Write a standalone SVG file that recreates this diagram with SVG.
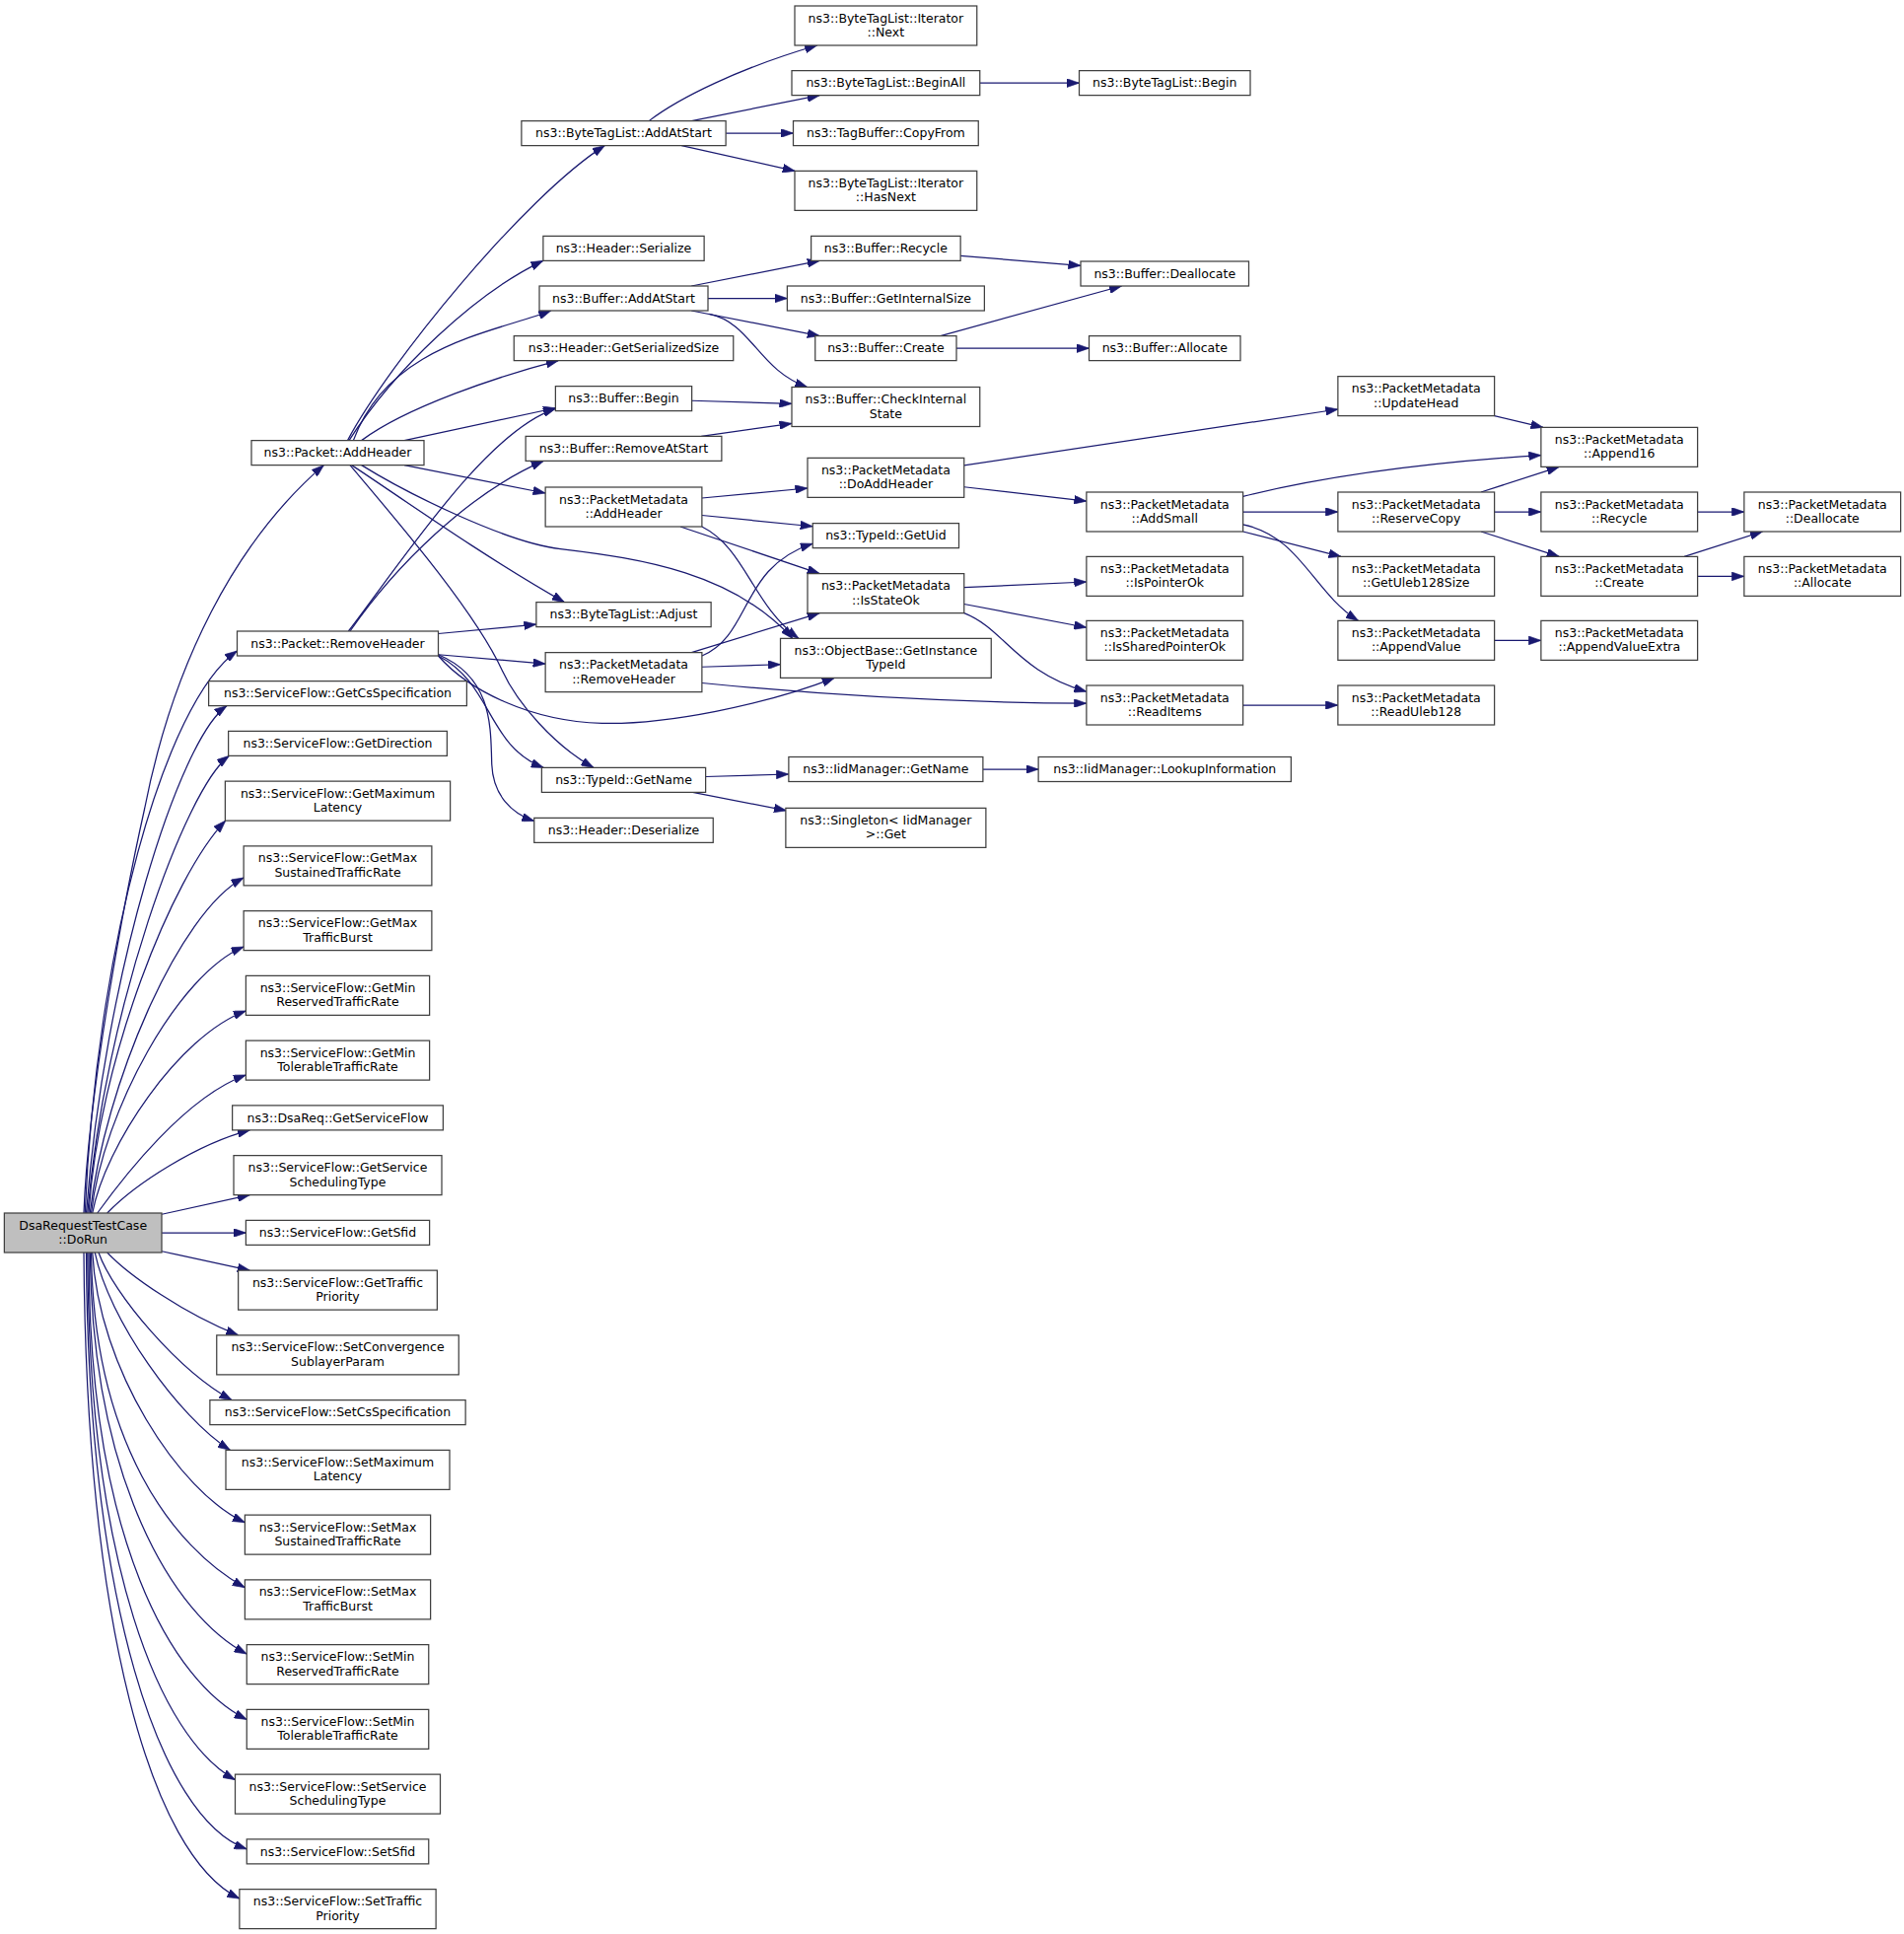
<svg xmlns="http://www.w3.org/2000/svg" width="1931" height="1961" viewBox="0 0 1931 1961">
<style>
.n rect{fill:#ffffff;stroke:#404040;stroke-width:1}
.n.root rect{fill:#bfbfbf}
.n text{font-family:'DejaVu Sans','Liberation Sans',sans-serif;font-size:10px;text-anchor:middle;fill:#000000}
#edges path{fill:none;stroke:#191970;stroke-width:1;marker-end:url(#arr)}
</style>
<defs>
<marker id="arr" viewBox="0 0 10 7" refX="10" refY="3.5" markerWidth="10" markerHeight="7" markerUnits="userSpaceOnUse" orient="auto">
<path d="M0,0 L10,3.5 L0,7 z" fill="#191970" stroke="#191970" stroke-width="0.5"/>
</marker>
</defs>
<rect x="0" y="0" width="1931" height="1961" fill="#ffffff"/>
<g transform="scale(1.25)">
<g id="edges">
<path d="M68,984 C72,880 103,720 117.3,656 C140,540 190,440 262.7,377.3"/>
<path d="M69,984 C78,770 133,570 192.4,528"/>
<path d="M70,984 C85,790 145,600 184,572.5"/>
<path d="M71,984 C85,820 150,640 185.9,613.1"/>
<path d="M72,984 C80,860 140,710 183,665.7"/>
<path d="M73,984 C85,880 145,740 197.7,712"/>
<path d="M74,984 C84,900 145,790 197.7,768"/>
<path d="M75,984 C85,930 145,840 199.5,820"/>
<path d="M79,984 C100,955 150,890 199.5,872"/>
<path d="M87,984 C110,960 160,928 202.7,916.7"/>
<path d="M131.3,985 L202.7,969.3"/>
<path d="M131.3,1000 L199.5,1000"/>
<path d="M131.3,1015 L202.7,1030.5"/>
<path d="M87,1016 C105,1035 150,1066 193.3,1083.1"/>
<path d="M80,1016 C92,1050 145,1112 188,1135.7"/>
<path d="M77,1016 C88,1070 145,1150 186.7,1176.3"/>
<path d="M75,1016 C80,1110 145,1210 198.7,1235"/>
<path d="M74,1016 C76,1170 140,1255 198.7,1287.8"/>
<path d="M73,1016 C75,1200 140,1310 200.2,1341.6"/>
<path d="M72,1016 C72,1250 140,1365 200.2,1394.8"/>
<path d="M71,1016 C72,1270 130,1410 190.8,1443.7"/>
<path d="M70,1016 C71,1300 130,1475 200.2,1499.9"/>
<path d="M68,1016 C70,1320 122.7,1504.9 194.3,1540.1"/>
<path d="M282,357.3 C315,295 425,160 490.6,118.1"/>
<path d="M283.2,357.3 C320,300 385,238 440.7,211.5"/>
<path d="M286.7,357.3 C315,280 400,270 447,252"/>
<path d="M293.3,357.3 C330,330 405,305 453,292.5"/>
<path d="M328,357.3 L450.7,331"/>
<path d="M328,377.3 L442.5,400"/>
<path d="M293.3,377.3 C330,400 410,440 454.7,445.3 C521.8,453.3 595,465 643,517.9"/>
<path d="M285.3,377.3 C320,400 390,450 458,488.5"/>
<path d="M284,377.3 C320,420 385,495 407.5,544 C420,571 450,605 481.6,622.7"/>
<path d="M282.7,512 C330,450 395,350 450.7,331.5"/>
<path d="M284,512 C320,460 380,400 441,373.9"/>
<path d="M355.6,514 L435.1,506.5"/>
<path d="M355.6,531 L442.5,538.5"/>
<path d="M355.6,532 C380,560 430,585 488.4,586.7 C540,588 620,572 677,549.9"/>
<path d="M355.6,532 C400,555 395,605 441,622.7"/>
<path d="M355.6,531 C400,550 398,590 399,620 C400,645 415,660 433.4,666"/>
<path d="M526.5,98.1 C550,80 600,55 663,36.8"/>
<path d="M561,98.1 L665,77.3"/>
<path d="M588.9,108 L643.6,108"/>
<path d="M553,118.1 L645,138.7"/>
<path d="M795,67.3 L875.6,67.3"/>
<path d="M561,232 L665,211.5"/>
<path d="M574.4,242 L638.7,242"/>
<path d="M561,252 L665,272.5"/>
<path d="M575.5,254.7 C610,262 615,300 655,314"/>
<path d="M779.3,207.5 L876.8,215.5"/>
<path d="M763,272.5 L910,232"/>
<path d="M776,282.5 L883.6,282.5"/>
<path d="M561.3,325 L642.4,327.5"/>
<path d="M569,353.9 L642.4,343.5"/>
<path d="M569.5,404 L655.2,396"/>
<path d="M569.5,418 L659.4,427"/>
<path d="M552,427.2 L665,465.3"/>
<path d="M569.5,427.2 C605,445 610,490 648,517.9"/>
<path d="M569.5,532 C610,515 600,460 659.4,441"/>
<path d="M561,529.3 L665,497.3"/>
<path d="M569.5,541 L633.2,539"/>
<path d="M569.5,554 C680,565 780,570 881.5,570.5"/>
<path d="M572.5,630 L639.9,628"/>
<path d="M562,642.7 L638,657.5"/>
<path d="M797.5,624 L842.5,624"/>
<path d="M782.2,377.5 L1085.5,332"/>
<path d="M782.2,395 L881.5,406.5"/>
<path d="M782.2,476.5 L881.5,472"/>
<path d="M782.2,490 L881.5,509"/>
<path d="M782.2,497.3 C815,510 825,545 881.5,561"/>
<path d="M1212.5,337.3 L1252,346.7"/>
<path d="M1008.5,402.7 C1080,385 1160,375 1250.3,369.3"/>
<path d="M1008.5,415.2 L1085.5,415.2"/>
<path d="M1008.5,431.2 L1088,451.5"/>
<path d="M1008.5,425.5 C1055,435 1065,480 1102,503.5"/>
<path d="M1201.6,399.2 L1265,378.7"/>
<path d="M1212.5,415.2 L1250.3,415.2"/>
<path d="M1201.6,431.2 L1265,451.5"/>
<path d="M1377.3,415.2 L1415.1,415.2"/>
<path d="M1366.5,451.5 L1430,431.2"/>
<path d="M1377.3,467.5 L1415.1,467.5"/>
<path d="M1212.5,519.5 L1250.3,519.5"/>
<path d="M1008.5,572 L1085.5,572"/>
</g>

<g id="dorun" class="n root"><rect x="3.5" y="984" width="127.7" height="32"/><text x="67.35" y="997.2">DsaRequestTestCase</text><text x="67.35" y="1008.8">::DoRun</text></g>

<g id="pkt_addheader" class="n"><rect x="204" y="357.3" width="140" height="20"/><text x="274" y="370.7">ns3::Packet::AddHeader</text></g>
<g id="pkt_removeheader" class="n"><rect x="192.4" y="512" width="163.2" height="20"/><text x="274" y="525.4">ns3::Packet::RemoveHeader</text></g>
<g id="sf_getcs" class="n"><rect x="169.3" y="552.5" width="209.4" height="20"/><text x="274" y="565.9">ns3::ServiceFlow::GetCsSpecification</text></g>
<g id="sf_getdir" class="n"><rect x="185.3" y="593.1" width="177.4" height="20"/><text x="274" y="606.5">ns3::ServiceFlow::GetDirection</text></g>
<g id="sf_getmaxlat" class="n"><rect x="182.7" y="633.7" width="182.6" height="32"/><text x="274" y="646.9">ns3::ServiceFlow::GetMaximum</text><text x="274" y="658.5">Latency</text></g>
<g id="sf_getmaxsus" class="n"><rect x="197.7" y="686.3" width="152.6" height="32"/><text x="274" y="699.5">ns3::ServiceFlow::GetMax</text><text x="274" y="711.1">SustainedTrafficRate</text></g>
<g id="sf_getmaxtb" class="n"><rect x="197.7" y="738.9" width="152.6" height="32"/><text x="274" y="752.1">ns3::ServiceFlow::GetMax</text><text x="274" y="763.7">TrafficBurst</text></g>
<g id="sf_getminres" class="n"><rect x="199.5" y="791.5" width="149" height="32"/><text x="274" y="804.7">ns3::ServiceFlow::GetMin</text><text x="274" y="816.3">ReservedTrafficRate</text></g>
<g id="sf_getmintol" class="n"><rect x="199.5" y="844.1" width="149" height="32"/><text x="274" y="857.3">ns3::ServiceFlow::GetMin</text><text x="274" y="868.9">TolerableTrafficRate</text></g>
<g id="dsareq_getsf" class="n"><rect x="188.5" y="896.7" width="171" height="20"/><text x="274" y="910.1">ns3::DsaReq::GetServiceFlow</text></g>
<g id="sf_getsched" class="n"><rect x="189.6" y="937.3" width="168.8" height="32"/><text x="274" y="950.5">ns3::ServiceFlow::GetService</text><text x="274" y="962.1">SchedulingType</text></g>
<g id="sf_getsfid" class="n"><rect x="199.5" y="989.9" width="149" height="20"/><text x="274" y="1003.3">ns3::ServiceFlow::GetSfid</text></g>
<g id="sf_gettraffic" class="n"><rect x="193.3" y="1030.5" width="161.4" height="32"/><text x="274" y="1043.7">ns3::ServiceFlow::GetTraffic</text><text x="274" y="1055.3">Priority</text></g>
<g id="sf_setconv" class="n"><rect x="175.8" y="1083.1" width="196.4" height="32"/><text x="274" y="1096.3">ns3::ServiceFlow::SetConvergence</text><text x="274" y="1107.9">SublayerParam</text></g>
<g id="sf_setcs" class="n"><rect x="170.3" y="1135.7" width="207.4" height="20"/><text x="274" y="1149.1">ns3::ServiceFlow::SetCsSpecification</text></g>
<g id="sf_setmaxlat" class="n"><rect x="183.2" y="1176.3" width="181.6" height="32"/><text x="274" y="1189.5">ns3::ServiceFlow::SetMaximum</text><text x="274" y="1201.1">Latency</text></g>
<g id="sf_setmaxsus" class="n"><rect x="198.7" y="1228.9" width="150.6" height="32"/><text x="274" y="1242.1">ns3::ServiceFlow::SetMax</text><text x="274" y="1253.7">SustainedTrafficRate</text></g>
<g id="sf_setmaxtb" class="n"><rect x="198.7" y="1281.5" width="150.6" height="32"/><text x="274" y="1294.7">ns3::ServiceFlow::SetMax</text><text x="274" y="1306.3">TrafficBurst</text></g>
<g id="sf_setminres" class="n"><rect x="200.2" y="1334.1" width="147.6" height="32"/><text x="274" y="1347.3">ns3::ServiceFlow::SetMin</text><text x="274" y="1358.9">ReservedTrafficRate</text></g>
<g id="sf_setmintol" class="n"><rect x="200.2" y="1386.7" width="147.6" height="32"/><text x="274" y="1399.9">ns3::ServiceFlow::SetMin</text><text x="274" y="1411.5">TolerableTrafficRate</text></g>
<g id="sf_setsched" class="n"><rect x="190.8" y="1439.3" width="166.4" height="32"/><text x="274" y="1452.5">ns3::ServiceFlow::SetService</text><text x="274" y="1464.1">SchedulingType</text></g>
<g id="sf_setsfid" class="n"><rect x="200.2" y="1491.9" width="147.6" height="20"/><text x="274" y="1505.3">ns3::ServiceFlow::SetSfid</text></g>
<g id="sf_settraffic" class="n"><rect x="194.3" y="1532.5" width="159.4" height="32"/><text x="274" y="1545.7">ns3::ServiceFlow::SetTraffic</text><text x="274" y="1557.3">Priority</text></g>

<g id="btl_addatstart" class="n"><rect x="423.1" y="98.1" width="165.8" height="20"/><text x="506" y="111.5">ns3::ByteTagList::AddAtStart</text></g>
<g id="hdr_serialize" class="n"><rect x="440.7" y="191.5" width="130.6" height="20"/><text x="506" y="204.9">ns3::Header::Serialize</text></g>
<g id="buf_addatstart" class="n"><rect x="437.6" y="232" width="136.8" height="20"/><text x="506" y="245.4">ns3::Buffer::AddAtStart</text></g>
<g id="hdr_getsersize" class="n"><rect x="417" y="272.5" width="178" height="20"/><text x="506" y="285.9">ns3::Header::GetSerializedSize</text></g>
<g id="buf_begin" class="n"><rect x="450.7" y="313.3" width="110.6" height="20"/><text x="506" y="326.7">ns3::Buffer::Begin</text></g>
<g id="buf_removeatstart" class="n"><rect x="426.5" y="353.9" width="159" height="20"/><text x="506" y="367.3">ns3::Buffer::RemoveAtStart</text></g>
<g id="pm_addheader" class="n"><rect x="442.5" y="395.2" width="127" height="32"/><text x="506" y="408.4">ns3::PacketMetadata</text><text x="506" y="420">::AddHeader</text></g>
<g id="btl_adjust" class="n"><rect x="435.1" y="488.5" width="141.8" height="20"/><text x="506" y="501.9">ns3::ByteTagList::Adjust</text></g>
<g id="pm_removeheader" class="n"><rect x="442.5" y="529.3" width="127" height="32"/><text x="506" y="542.5">ns3::PacketMetadata</text><text x="506" y="554.1">::RemoveHeader</text></g>
<g id="typeid_getname" class="n"><rect x="439.5" y="622.7" width="133" height="20"/><text x="506" y="636.1">ns3::TypeId::GetName</text></g>
<g id="hdr_deserialize" class="n"><rect x="433.4" y="663.5" width="145.2" height="20"/><text x="506" y="676.9">ns3::Header::Deserialize</text></g>

<g id="btl_it_next" class="n"><rect x="644.8" y="4.8" width="147.8" height="32"/><text x="718.7" y="18">ns3::ByteTagList::Iterator</text><text x="718.7" y="29.6">::Next</text></g>
<g id="btl_beginall" class="n"><rect x="642.4" y="57.3" width="152.6" height="20"/><text x="718.7" y="70.7">ns3::ByteTagList::BeginAll</text></g>
<g id="tagbuf_copyfrom" class="n"><rect x="643.6" y="98.1" width="150.2" height="20"/><text x="718.7" y="111.5">ns3::TagBuffer::CopyFrom</text></g>
<g id="btl_it_hasnext" class="n"><rect x="644.8" y="138.7" width="147.8" height="32"/><text x="718.7" y="151.9">ns3::ByteTagList::Iterator</text><text x="718.7" y="163.5">::HasNext</text></g>
<g id="buf_recycle" class="n"><rect x="658.1" y="191.5" width="121.2" height="20"/><text x="718.7" y="204.9">ns3::Buffer::Recycle</text></g>
<g id="buf_getinternalsize" class="n"><rect x="638.7" y="232" width="160" height="20"/><text x="718.7" y="245.4">ns3::Buffer::GetInternalSize</text></g>
<g id="buf_create" class="n"><rect x="661.4" y="272.5" width="114.6" height="20"/><text x="718.7" y="285.9">ns3::Buffer::Create</text></g>
<g id="buf_checkinternal" class="n"><rect x="642.4" y="314" width="152.6" height="32"/><text x="718.7" y="327.2">ns3::Buffer::CheckInternal</text><text x="718.7" y="338.8">State</text></g>
<g id="pm_doaddheader" class="n"><rect x="655.2" y="371.5" width="127" height="32"/><text x="718.7" y="384.7">ns3::PacketMetadata</text><text x="718.7" y="396.3">::DoAddHeader</text></g>
<g id="typeid_getuid" class="n"><rect x="659.4" y="424.5" width="118.6" height="20"/><text x="718.7" y="437.9">ns3::TypeId::GetUid</text></g>
<g id="pm_isstateok" class="n"><rect x="655.2" y="465.3" width="127" height="32"/><text x="718.7" y="478.5">ns3::PacketMetadata</text><text x="718.7" y="490.1">::IsStateOk</text></g>
<g id="objbase_getinstancetypeid" class="n"><rect x="633.2" y="517.9" width="171" height="32"/><text x="718.7" y="531.1">ns3::ObjectBase::GetInstance</text><text x="718.7" y="542.7">TypeId</text></g>
<g id="iid_getname" class="n"><rect x="639.9" y="614" width="157.6" height="20"/><text x="718.7" y="627.4">ns3::IidManager::GetName</text></g>
<g id="singleton_get" class="n"><rect x="637.5" y="655.5" width="162.4" height="32"/><text x="718.7" y="668.7">ns3::Singleton&lt; IidManager</text><text x="718.7" y="680.3">&gt;::Get</text></g>

<g id="btl_begin" class="n"><rect x="875.6" y="57.3" width="138.8" height="20"/><text x="945" y="70.7">ns3::ByteTagList::Begin</text></g>
<g id="buf_deallocate" class="n"><rect x="876.8" y="212" width="136.4" height="20"/><text x="945" y="225.4">ns3::Buffer::Deallocate</text></g>
<g id="buf_allocate" class="n"><rect x="883.6" y="272.5" width="122.8" height="20"/><text x="945" y="285.9">ns3::Buffer::Allocate</text></g>
<g id="pm_addsmall" class="n"><rect x="881.5" y="399.2" width="127" height="32"/><text x="945" y="412.4">ns3::PacketMetadata</text><text x="945" y="424">::AddSmall</text></g>
<g id="pm_ispointerok" class="n"><rect x="881.5" y="451.5" width="127" height="32"/><text x="945" y="464.7">ns3::PacketMetadata</text><text x="945" y="476.3">::IsPointerOk</text></g>
<g id="pm_issharedpointerok" class="n"><rect x="881.5" y="503.5" width="127" height="32"/><text x="945" y="516.7">ns3::PacketMetadata</text><text x="945" y="528.3">::IsSharedPointerOk</text></g>
<g id="pm_readitems" class="n"><rect x="881.5" y="556" width="127" height="32"/><text x="945" y="569.2">ns3::PacketMetadata</text><text x="945" y="580.8">::ReadItems</text></g>
<g id="iid_lookupinfo" class="n"><rect x="842.5" y="614" width="205" height="20"/><text x="945" y="627.4">ns3::IidManager::LookupInformation</text></g>

<g id="pm_updatehead" class="n"><rect x="1085.5" y="305.3" width="127" height="32"/><text x="1149" y="318.5">ns3::PacketMetadata</text><text x="1149" y="330.1">::UpdateHead</text></g>
<g id="pm_reservecopy" class="n"><rect x="1085.5" y="399.2" width="127" height="32"/><text x="1149" y="412.4">ns3::PacketMetadata</text><text x="1149" y="424">::ReserveCopy</text></g>
<g id="pm_getuleb128size" class="n"><rect x="1085.5" y="451.5" width="127" height="32"/><text x="1149" y="464.7">ns3::PacketMetadata</text><text x="1149" y="476.3">::GetUleb128Size</text></g>
<g id="pm_appendvalue" class="n"><rect x="1085.5" y="503.5" width="127" height="32"/><text x="1149" y="516.7">ns3::PacketMetadata</text><text x="1149" y="528.3">::AppendValue</text></g>
<g id="pm_readuleb128" class="n"><rect x="1085.5" y="556" width="127" height="32"/><text x="1149" y="569.2">ns3::PacketMetadata</text><text x="1149" y="580.8">::ReadUleb128</text></g>

<g id="pm_append16" class="n"><rect x="1250.3" y="346.7" width="127" height="32"/><text x="1313.8" y="359.9">ns3::PacketMetadata</text><text x="1313.8" y="371.5">::Append16</text></g>
<g id="pm_recycle" class="n"><rect x="1250.3" y="399.2" width="127" height="32"/><text x="1313.8" y="412.4">ns3::PacketMetadata</text><text x="1313.8" y="424">::Recycle</text></g>
<g id="pm_create" class="n"><rect x="1250.3" y="451.5" width="127" height="32"/><text x="1313.8" y="464.7">ns3::PacketMetadata</text><text x="1313.8" y="476.3">::Create</text></g>
<g id="pm_appendvalueextra" class="n"><rect x="1250.3" y="503.5" width="127" height="32"/><text x="1313.8" y="516.7">ns3::PacketMetadata</text><text x="1313.8" y="528.3">::AppendValueExtra</text></g>

<g id="pm_deallocate" class="n"><rect x="1415.1" y="399.2" width="127" height="32"/><text x="1478.6" y="412.4">ns3::PacketMetadata</text><text x="1478.6" y="424">::Deallocate</text></g>
<g id="pm_allocate" class="n"><rect x="1415.1" y="451.5" width="127" height="32"/><text x="1478.6" y="464.7">ns3::PacketMetadata</text><text x="1478.6" y="476.3">::Allocate</text></g>
</g>
</svg>
